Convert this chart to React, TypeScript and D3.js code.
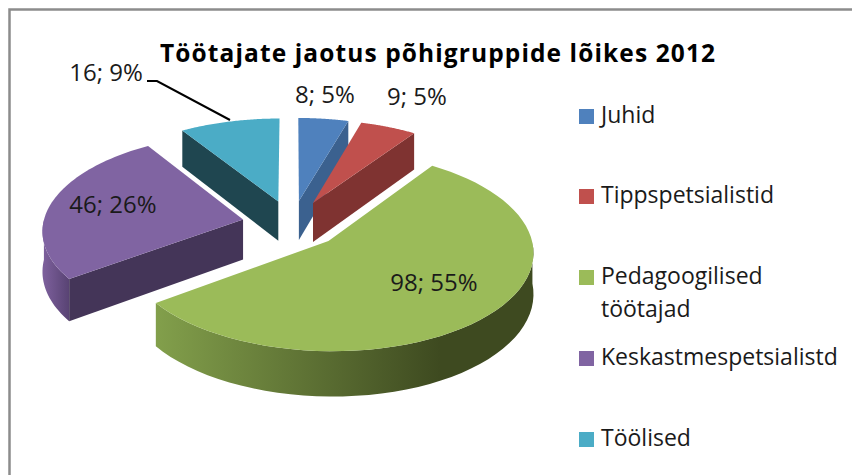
import React from "react";
import * as d3 from "d3";

const categories = ["Juhid", "Tippspetsialistid", "Pedagoogilised töötajad", "Keskastmespetsialistd", "Töölised"];
const legendLines = [["Juhid"], ["Tippspetsialistid"], ["Pedagoogilised", "töötajad"], ["Keskastmespetsialistd"], ["Töölised"]];
const values = [8, 9, 98, 46, 16];
const percents = [5, 5, 55, 26, 9];
const topColors = ["#4f81bd", "#c0504d", "#9bbb59", "#8064a2", "#4bacc6"];
const sideColors = ["#3b618f", "#7f3331", "#4f5f2a", "#443558", "#1f4650"];
const wallLight = ["#4f81bd", "#c0504d", "#829f4b", "#7c5f9b", "#4bacc6"];
const wallDark = ["#2f4d72", "#732f2d", "#3e4a20", "#574272", "#1f4650"];
const labelX = [325, 417, 434, 113, 106];
const labelY = [103, 105, 291, 213, 81];
const legendY = [109, 189, 270, 351, 432];
const drawOrder = [4, 0, 1, 3, 2];

const CX = 292, CY = 224, R = 200, K = 0.478, P = 0.1, EXPLODE = 0.25, DEPTH = 40;
const FONT = "'Open Sans', Lato, sans-serif";

const project = (u: number, v: number, drop = 0): [number, number] => {
  const s = 1 / (1 - P * v);
  return [CX + R * u * s, CY + R * K * v * s + drop * s];
};

const line = d3.line<[number, number]>();

export default function App() {
  const arcs = d3.pie<number>().sort(null)(values);
  const geom = arcs.map((a) => {
    const mid = (a.startAngle + a.endAngle) / 2;
    const au = Math.sin(mid) * EXPLODE, av = -Math.cos(mid) * EXPLODE;
    const pt = (t: number, drop = 0) => project(au + Math.sin(t), av - Math.cos(t), drop);
    const ts = d3.range(0, 61).map((i) => a.startAngle + ((a.endAngle - a.startAngle) * i) / 60);
    return { a, au, av, pt, ts };
  });
  return (
    <svg width={852} height={475} style={{ position: "absolute", left: 0, top: 0, background: "#fff" }}>
      <defs>
        {geom.map((g, i) => (
          <linearGradient key={i} id={`wall${i}`} gradientUnits="userSpaceOnUse" x1={i === 2 ? 157 : 44} x2={i === 2 ? 440 : 70} y1={0} y2={0}>
            <stop offset="0" stopColor={wallLight[i]} />
            <stop offset="1" stopColor={wallDark[i]} />
          </linearGradient>
        ))}
      </defs>
      <path d="M9.5 475V9.5H852" fill="none" stroke="#8c8c8c" strokeWidth={2.5} />
      <text x={160} y={62} fontFamily={FONT} fontWeight={700} fontSize={24.5} textLength={555} lengthAdjust="spacing" fill="#000">
        Töötajate jaotus põhigruppide lõikes 2012
      </text>
      {drawOrder.map((i) => {
        const g = geom[i];
        const apex = project(g.au, g.av);
        const apexLow = project(g.au, g.av, DEPTH);
        const cutAngle = i === 4 ? g.a.startAngle : i === 3 ? g.a.startAngle : g.a.endAngle;
        const showCut = i !== 2;
        const cutPoly: [number, number][] = [apex, g.pt(cutAngle), g.pt(cutAngle, DEPTH), apexLow];
        const wallTs = g.ts.filter((t) => Math.cos(t) < 0.02);
        const wall: [number, number][] = wallTs.length
          ? [...wallTs.map((t) => g.pt(t)), ...wallTs.slice().reverse().map((t) => g.pt(t, DEPTH))]
          : [];
        const top: [number, number][] = [apex, ...g.ts.map((t) => g.pt(t))];
        return (
          <g key={categories[i]}>
            {wall.length > 0 && <path d={line(wall) + "Z"} fill={`url(#wall${i})`} />}
            {showCut && <path d={line(cutPoly) + "Z"} fill={sideColors[i]} />}
            <path d={line(top) + "Z"} fill={topColors[i]} />
          </g>
        );
      })}
      <polyline points="147,81 157,81 230,120" fill="none" stroke="#000" strokeWidth={2} />
      {values.map((v, i) => (
        <text key={i} x={labelX[i]} y={labelY[i]} textAnchor="middle" fontFamily={FONT} fontSize={24} fill="#1a1a1a">
          {`${v}; ${percents[i]}%`}
        </text>
      ))}
      {legendLines.map((lines, i) => (
        <g key={i}>
          <rect x={579} y={legendY[i]} width={15} height={15} fill={topColors[i]} />
          {lines.map((t, j) => (
            <text key={j} x={601} y={legendY[i] + 14 + j * 33} fontFamily={FONT} fontSize={23} fill="#1a1a1a">
              {t}
            </text>
          ))}
        </g>
      ))}
    </svg>
  );
}
